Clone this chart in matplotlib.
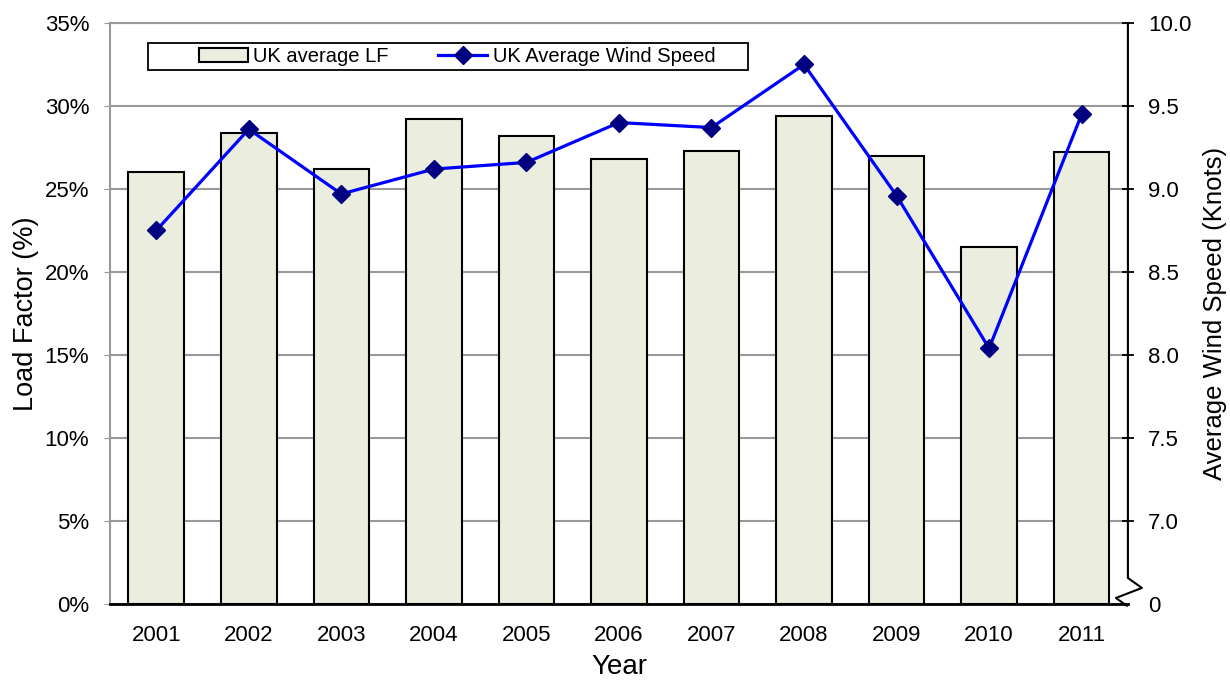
import numpy as np
import matplotlib
matplotlib.use("Agg")
import matplotlib.pyplot as plt
from matplotlib.ticker import FuncFormatter
from matplotlib.lines import Line2D
from matplotlib.patches import Rectangle

plt.rcParams['font.family'] = ['Liberation Sans', 'DejaVu Sans']

# data
years = ['2001', '2002', '2003', '2004', '2005', '2006', '2007', '2008', '2009', '2010', '2011']
load_factor = [0.260, 0.284, 0.262, 0.292, 0.282, 0.268, 0.273, 0.294, 0.270, 0.215, 0.272]
wind_speed = [8.75, 9.36, 8.97, 9.12, 9.16, 9.40, 9.37, 9.75, 8.96, 8.04, 9.45]

right_ticks = [6.5, 7.0, 7.5, 8.0, 8.5, 9.0, 9.5, 10.0]
right_labels = ['0', '7.0', '7.5', '8.0', '8.5', '9.0', '9.5', '10.0']

fig = plt.figure(figsize=(12.3, 6.8), dpi=100)
ax = fig.add_axes([0.0894, 0.1118, 0.8276, 0.8544])
x = np.arange(len(years))

# bars
ax.bar(x, load_factor, width=0.6, color='#EBEEDF', edgecolor='black', linewidth=1.5,
       label='UK average LF', zorder=3)
ax.set_xlim(-0.5, len(years) - 0.5)
ax.set_ylim(0, 0.35)
ax.set_yticks(np.arange(0, 0.351, 0.05))
ax.yaxis.set_major_formatter(FuncFormatter(lambda v, p: f'{v*100:.0f}%'))
ax.set_xticks(x)
ax.set_xticklabels(years)
ax.grid(axis='y', color='#999999', linewidth=1.5, zorder=0)
ax.set_axisbelow(True)
ax.tick_params(axis='x', length=0, labelsize=16, pad=15)
ax.tick_params(axis='y', colors='#999999', labelcolor='black', labelsize=16, length=4, pad=11)
ax.spines['left'].set_color('#999999')
ax.spines['left'].set_linewidth(1.5)
ax.spines['top'].set_color('#999999')
ax.spines['top'].set_linewidth(1.5)
ax.spines['bottom'].set_linewidth(2)
ax.spines['right'].set_visible(False)
ax.set_xlabel('Year', fontsize=20, labelpad=6)
ax.set_ylabel('Load Factor (%)', fontsize=19.5, labelpad=4)

# wind speed line on the right axis
ax2 = ax.twinx()
ax2.plot(x, wind_speed, color='#0000FF', linewidth=2.3, marker='D', markersize=9,
         markerfacecolor='#000080', markeredgecolor='#000080',
         label='UK Average Wind Speed', zorder=4)
ax2.set_ylim(6.5, 10.0)
ax2.set_yticks(right_ticks)
ax2.set_yticklabels(right_labels)
ax2.tick_params(axis='y', direction='inout', length=9, width=1.3, labelsize=16, pad=10)
ax2.yaxis.get_major_ticks()[0].tick2line.set_visible(False)
for s in ['left', 'top', 'bottom', 'right']:
    ax2.spines[s].set_visible(False)
ax2.set_ylabel('Average Wind Speed (Knots)', fontsize=18.5, labelpad=8)

# right spine with axis break
brk_x = [1.0, 1.0, 1.0137, 0.9882, 0.999]
brk_y = [1.0, 0.0448, 0.0276, 0.0103, -0.003]
ax2.add_line(Line2D(brk_x, brk_y, transform=ax2.transAxes, color='black',
                    linewidth=1.5, clip_on=False))

# legend: frame drawn separately so the entries can sit off-centre like the original
ax2.add_patch(Rectangle((0.0373, 0.919), 0.5894, 0.0466, transform=ax2.transAxes,
                        facecolor='white', edgecolor='black', linewidth=1.3, zorder=5))
h1, l1 = ax.get_legend_handles_labels()
h2, l2 = ax2.get_legend_handles_labels()
leg = ax2.legend(h1 + h2, l1 + l2, loc='center left', ncol=2,
                 bbox_to_anchor=(0.0884 - 0.001, 0.9423), fontsize=14.5,
                 frameon=False, handlelength=2.45, handletextpad=0.25,
                 columnspacing=2.45, borderpad=0, borderaxespad=0)
leg.set_zorder(6)

fig.savefig('out.png', dpi=100)
